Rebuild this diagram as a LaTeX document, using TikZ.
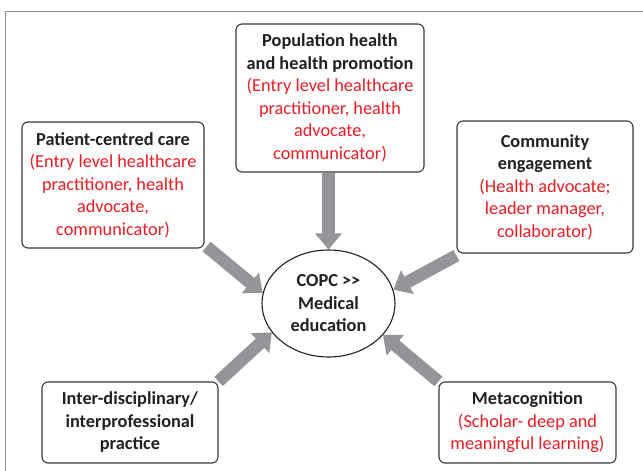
\documentclass[tikz,border=0pt]{standalone}
\usepackage{fontspec}
\setmainfont{Carlito}
\usetikzlibrary{arrows.meta,shapes.geometric,backgrounds}
\definecolor{txtred}{HTML}{ED1C24}
\definecolor{txtblk}{HTML}{231F20}
\definecolor{arrgray}{HTML}{939598}
\definecolor{framegray}{HTML}{8C8C8C}
\tikzset{
  box/.style={draw=txtblk!90, line width=1.1pt, rounded corners=6pt, fill=white,
    align=center, inner sep=0pt, font=\fontsize{18.3}{22.5}\selectfont, text=txtblk},
  hub/.style={ellipse, draw=txtblk, line width=1.1pt, fill=white, align=center,
    inner sep=0pt, font=\fontsize{18.3}{22.5}\selectfont\bfseries, text=txtblk},
  fatarrow/.style={draw=arrgray, line width=12.5pt,
    -{Triangle[length=16pt, width=26pt]}, fill=arrgray}
}
\newcommand{\rd}[1]{\textcolor{txtred}{#1}}
\begin{document}
\begin{tikzpicture}[x=1pt,y=-1pt]
\useasboundingbox (0,0) rectangle (643,471);
\draw[framegray, line width=1.5pt] (5.5,471) -- (5.5,11.5) -- (643,11.5);

\node[box, minimum width=188pt, minimum height=148pt] (pop) at (330,98)
  {\textbf{Population health}\\\textbf{and health promotion}\\\rd{(Entry level healthcare}\\\rd{practitioner, health}\\\rd{advocate,}\\\rd{communicator)}};
\node[box, minimum width=182pt, minimum height=126pt] (pc) at (113,185)
  {\textbf{Patient-centred care}\\\rd{(Entry level healthcare}\\\rd{practitioner, health}\\\rd{advocate,}\\\rd{communicator)}};
\node[box, minimum width=176pt, minimum height=132pt] (ce) at (545,187)
  {\textbf{Community}\\\textbf{engagement}\\\rd{(Health advocate;}\\\rd{leader manager,}\\\rd{collaborator)}};
\node[box, minimum width=176pt, minimum height=81pt] (ip) at (130,422.5)
  {\textbf{Inter-disciplinary/}\\\textbf{interprofessional}\\\textbf{practice}};
\node[box, minimum width=177pt, minimum height=81pt] (meta) at (527.5,422.5)
  {\textbf{Metacognition}\\\rd{(Scholar- deep and}\\\rd{meaningful learning)}};
\node[hub, minimum width=133pt, minimum height=107pt] (copc) at (328.5,303.5)
  {COPC {>}{>}\\Medical\\education};

\begin{scope}[on background layer]
\draw[fatarrow] (pop.south -| copc.north) -- (copc.north);
\draw[fatarrow] ([shift={(2pt,2pt)}]pc.south east) -- (copc.171);
\draw[fatarrow] ([shift={(0pt,-2pt)}]ce.south west) -- (copc.12);
\draw[fatarrow] (ip.north east) -- (copc.207);
\draw[fatarrow] (meta.north west) -- (copc.-30);
\end{scope}
\end{tikzpicture}
\end{document}
